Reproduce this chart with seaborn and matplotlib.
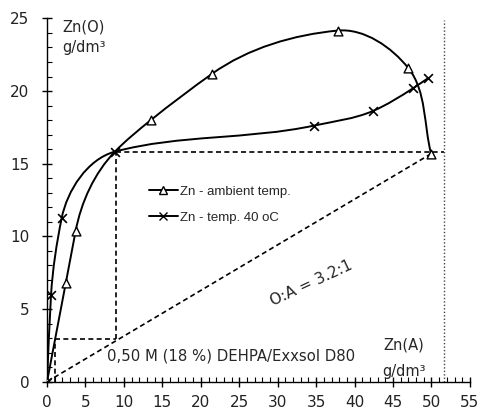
import numpy as np
import matplotlib
matplotlib.use("Agg")
import matplotlib.pyplot as plt
from matplotlib.path import Path
from matplotlib.patches import PathPatch
from matplotlib.lines import Line2D
import seaborn as sns

# Data
amb_x = [0.0, 2.43, 3.72, 8.83, 13.5, 21.5, 37.8, 47.0, 49.96]
amb_y = [0.0, 6.77, 10.37, 15.83, 18.0, 21.2, 24.16, 21.57, 15.67]
amb_marked = [True, True, True, False, True, True, True, True, True]

hot_x = [0.0, 0.52, 1.9, 8.83, 34.7, 42.4, 47.6, 49.6]
hot_y = [0.0, 5.97, 11.25, 15.83, 17.62, 18.63, 20.19, 20.9]

# operating line O:A = 3.2:1 and construction steps
op_x = [0.0, 50.0]
op_y = [0.0, 15.7]
step_x = [1.04, 9.0]
step_y = [2.92, 15.8]
feed_x = 51.6

sns.set_style("ticks")
plt.rcParams['font.family'] = ['DejaVu Sans']


def smooth_path(ax, xs, ys):
    # geometric Akima tangents, drawn as cubic Bezier in display space
    pts = ax.transData.transform(np.column_stack([xs, ys]))
    seg = np.diff(pts, axis=0)
    d = np.linalg.norm(seg, axis=1)
    th0 = np.arctan2(seg[:, 1], seg[:, 0])
    th = np.concatenate([[3 * th0[0] - 2 * th0[1], 2 * th0[0] - th0[1]], th0,
                         [2 * th0[-1] - th0[-2], 3 * th0[-1] - 2 * th0[-2]]])
    n = len(pts)
    tang = []
    for i in range(n):
        a, b, c, e = th[i], th[i + 1], th[i + 2], th[i + 3]
        w1 = abs(np.sin(e - c))
        w2 = abs(np.sin(b - a))
        if w1 + w2 < 1e-9:
            w1 = w2 = 1.0
        v = w1 * np.array([np.cos(b), np.sin(b)]) + w2 * np.array([np.cos(c), np.sin(c)])
        tang.append(v / np.linalg.norm(v))
    # ends follow the end chords, no overshoot
    tang[0] = seg[0] / d[0]
    tang[-1] = seg[-1] / d[-1]
    verts = [pts[0]]
    codes = [Path.MOVETO]
    for i in range(n - 1):
        verts += [pts[i] + tang[i] * d[i] / 3, pts[i + 1] - tang[i + 1] * d[i] / 3, pts[i + 1]]
        codes += [Path.CURVE4] * 3
    verts = ax.transData.inverted().transform(np.array(verts))
    return Path(verts, codes)


fig = plt.figure(figsize=(4.8, 4.11), dpi=100)
ax = fig.add_axes([0.098, 0.0713, 0.881, 0.884])
ax.set_xlim(0, 55)
ax.set_ylim(0, 25)

for s in ['top', 'right']:
    ax.spines[s].set_visible(False)
for s in ['left', 'bottom']:
    ax.spines[s].set_linewidth(1.0)
    ax.spines[s].set_color('black')

ax.set_xticks(np.arange(0, 56, 5))
ax.set_yticks(np.arange(0, 26, 5))
ax.set_xticks(np.arange(0, 56, 1), minor=True)
ax.set_yticks(np.arange(0, 26, 1), minor=True)
ax.tick_params(which='major', direction='inout', length=7.5, width=1.0, labelsize=11, colors='black')
ax.tick_params(axis='y', which='major', pad=9)
ax.tick_params(axis='x', which='major', pad=6)
ax.tick_params(which='minor', direction='in', length=3.5, width=0.8, colors='black')
for lab in ax.get_xticklabels() + ax.get_yticklabels():
    lab.set_color('#222222')

# curves
ax.add_patch(PathPatch(smooth_path(ax, amb_x, amb_y), fill=False, lw=1.4, ec='black', zorder=3))
ax.add_patch(PathPatch(smooth_path(ax, hot_x, hot_y), fill=False, lw=1.4, ec='black', zorder=3))

# markers
ax_m = [x for x, k in zip(amb_x, amb_marked) if k]
ay_m = [y for y, k in zip(amb_y, amb_marked) if k]
sns.scatterplot(x=ax_m, y=ay_m, marker='^', s=40, facecolor='white', edgecolor='black',
                linewidth=1.0, zorder=4, ax=ax)
sns.scatterplot(x=hot_x, y=hot_y, marker='x', s=40, color='black', linewidth=1.2, zorder=4, ax=ax)

# operating line and construction
ax.plot(op_x, op_y, ls=(0, (3, 2)), color='black', lw=1.2, zorder=2)
ax.plot([step_x[1], feed_x], [step_y[1], step_y[1]], ls=(0, (3, 2)), color='black', lw=1.2, zorder=2)
ax.plot([step_x[1], step_x[1]], [step_y[0], step_y[1]], ls=(0, (3, 2)), color='black', lw=1.2, zorder=2)
ax.plot([step_x[0], step_x[1]], [step_y[0], step_y[0]], ls=(0, (3, 2)), color='black', lw=1.2, zorder=2)
ax.plot([step_x[0], step_x[0]], [0, step_y[0]], ls=(0, (3, 2)), color='black', lw=1.2, zorder=2)
ax.plot([feed_x, feed_x], [0, 24.9], ls=(0, (1, 1.5)), color='#444444', lw=1.0, zorder=2)

# texts
ax.text(1.95, 24.9, "Zn(O)", fontsize=10.5, va='top', ha='left')
ax.text(1.95, 23.5, "g/dm³", fontsize=10.5, va='top', ha='left')
ax.text(46.4, 2.5, "Zn(A)", fontsize=10.5, va='center', ha='center')
ax.text(46.4, 0.7, "g/dm³", fontsize=10.5, va='center', ha='center')
ax.text(7.8, 1.75, "0,50 M (18 %) DEHPA/Exxsol D80", fontsize=10.7, va='center', ha='left')
ax.text(34.4, 6.8, "O:A = 3.2:1", fontsize=11, va='center', ha='center', rotation=25,
        rotation_mode='anchor')

handles = [
    Line2D([], [], color='black', lw=1.4, marker='^', ms=6, mfc='white', mec='black'),
    Line2D([], [], color='black', lw=1.4, marker='x', ms=6, mec='black'),
]
ax.legend(handles, ["Zn - ambient temp.", "Zn - temp. 40 oC"], loc='upper left',
          bbox_to_anchor=(0.212, 0.572), frameon=False, handlelength=2.2, handletextpad=0.2,
          labelspacing=1.05, prop={'family': 'Liberation Sans', 'size': 9.5})

fig.savefig("out.png", dpi=100)
